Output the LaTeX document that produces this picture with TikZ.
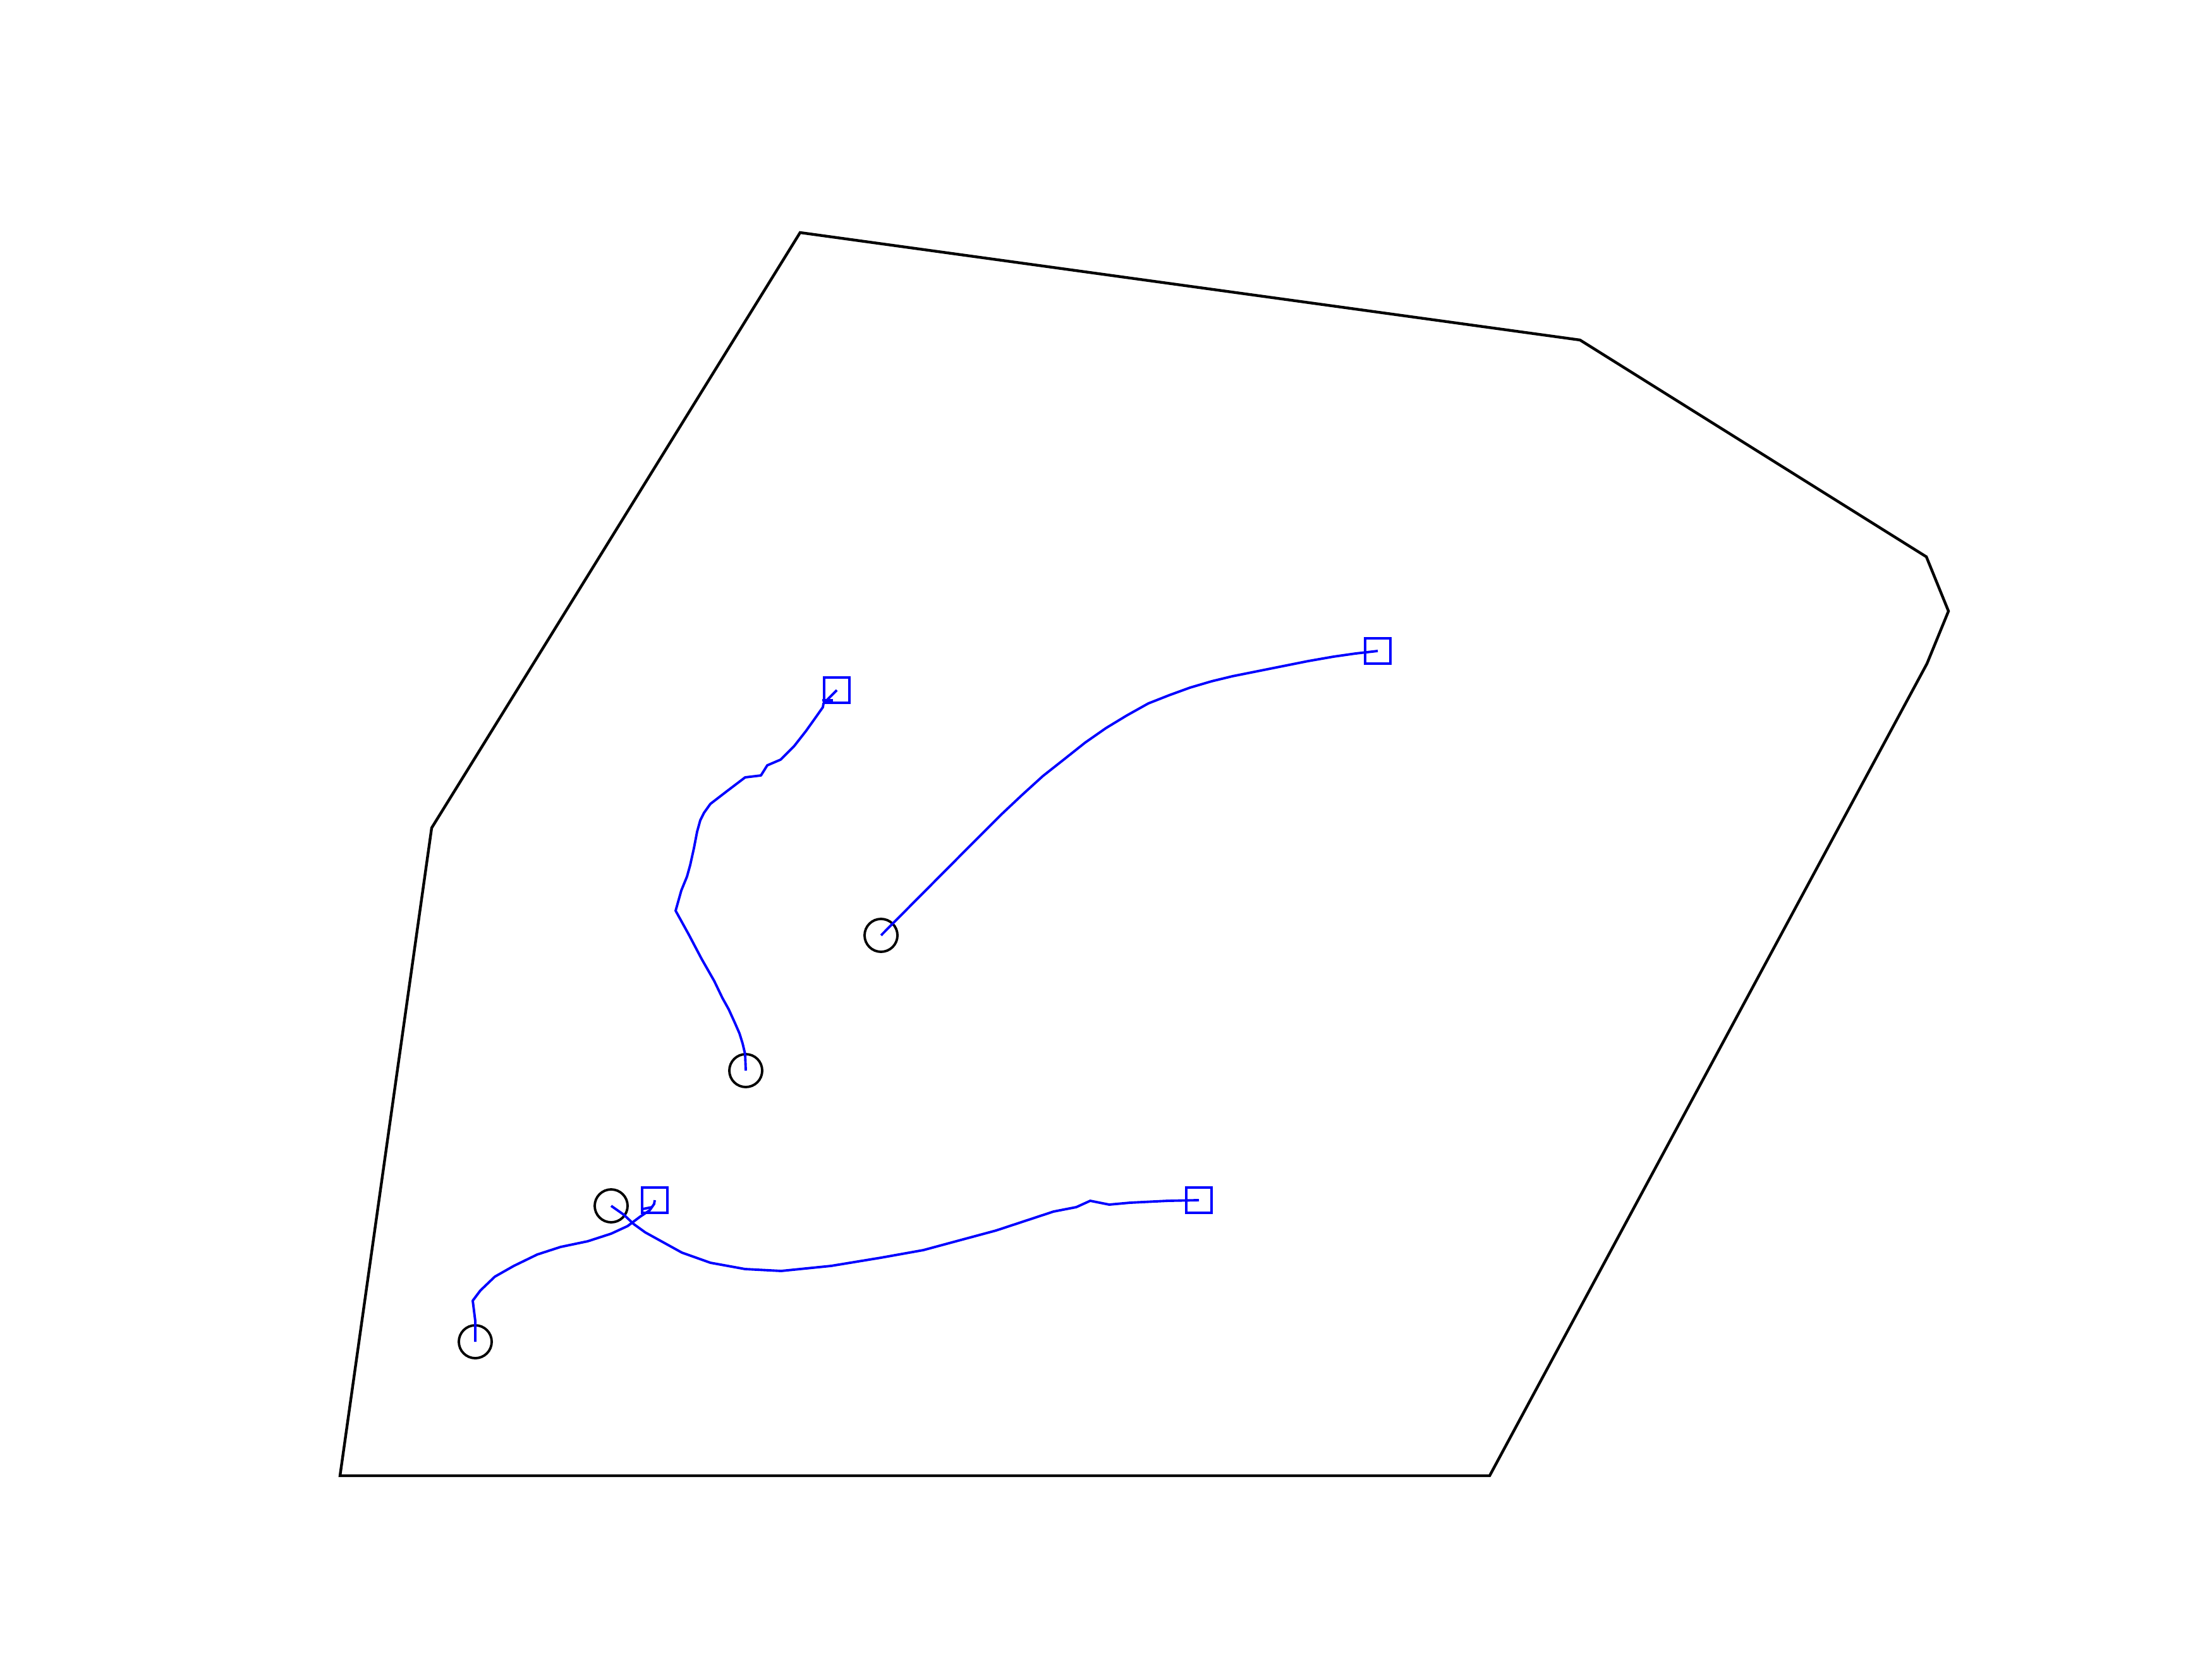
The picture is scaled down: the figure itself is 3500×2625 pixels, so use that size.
\documentclass[tikz,border=0pt]{standalone}
\usepackage{tikz}
\usetikzlibrary{positioning}

\begin{document}
\begin{tikzpicture}[
    x=0.01cm, y=-0.01cm,
    boundary/.style={draw=black, line width=1.25pt, line join=miter},
    startmark/.style={draw=black, circle, line width=1.1pt, minimum size=0.52cm, inner sep=0pt},
    goalmark/.style={draw=blue, rectangle, line width=1.15pt, minimum size=0.4cm, inner sep=0pt},
    track/.style={draw=blue, line width=1.1pt, line join=round}
]
\useasboundingbox (0,0) rectangle (3500,2625);

% Workspace boundary
\draw[boundary] (1266,368) -- (2500,538) -- (3048,881) -- (3083,967) -- (3049,1050)
    -- (2357,2335) -- (538,2335) -- (683,1310) -- cycle;

% Start markers
\node[startmark] (s1) at (1180,1694) {};
\node[startmark] (s2) at (1394,1480) {};
\node[startmark] (s3) at (752,2123) {};
\node[startmark] (s4) at (967,1908) {};

% Goal markers
\node[goalmark] (g1) at (1324,1092) {};
\node[goalmark] (g2) at (2180,1030) {};
\node[goalmark] (g3) at (1036,1899) {};
\node[goalmark] (g4) at (1897,1899) {};

% Trajectories
\draw[track] (s1.center) -- (1179,1668) -- (1175,1651) -- (1170,1635) -- (1163,1619)
    -- (1153,1597) -- (1143,1579) -- (1130,1552) -- (1110,1517) -- (1090,1479)
    -- (1069,1441) -- (1078,1409) -- (1087,1387) -- (1092,1369) -- (1098,1342)
    -- (1103,1316) -- (1108,1298) -- (1114,1286) -- (1124,1272) -- (1150,1252)
    -- (1179,1230) -- (1204,1227) -- (1214,1211) -- (1235,1202) -- (1257,1180)
    -- (1275,1157) -- (1290,1136) -- (1302,1119) -- (1303,1113) -- (1308,1108)
    -- (g1.center);
\draw[track] (1301,1108) -- (1318,1108);

\draw[track] (s2.center) -- (1550,1323) -- (1583,1290) -- (1617,1258) -- (1650,1228)
    -- (1683,1202) -- (1717,1175) -- (1750,1152) -- (1783,1132) -- (1817,1113)
    -- (1850,1100) -- (1883,1088) -- (1917,1078) -- (1950,1070) -- (1990,1062)
    -- (2030,1054) -- (2070,1046) -- (2110,1039) -- (2145,1034) -- (g2.center);

\draw[track] (s3.center) -- (752,2090) -- (748,2058) -- (760,2042) -- (783,2020)
    -- (813,2003) -- (850,1985) -- (887,1973) -- (930,1964) -- (967,1952)
    -- (993,1940) -- (1013,1925) -- (1028,1915) -- (1035,1905) -- (g3.center);
\draw[track] (1032,1910) -- (1017,1913);

\draw[track] (s4.center) -- (987,1922) -- (1003,1937) -- (1021,1950) -- (1079,1982)
    -- (1124,1998) -- (1179,2008) -- (1236,2011) -- (1315,2003) -- (1394,1990)
    -- (1461,1978) -- (1524,1961) -- (1576,1947) -- (1667,1917) -- (1703,1910)
    -- (1725,1900) -- (1755,1906) -- (1788,1903) -- (1848,1900) -- (g4.center);
\end{tikzpicture}
\end{document}
